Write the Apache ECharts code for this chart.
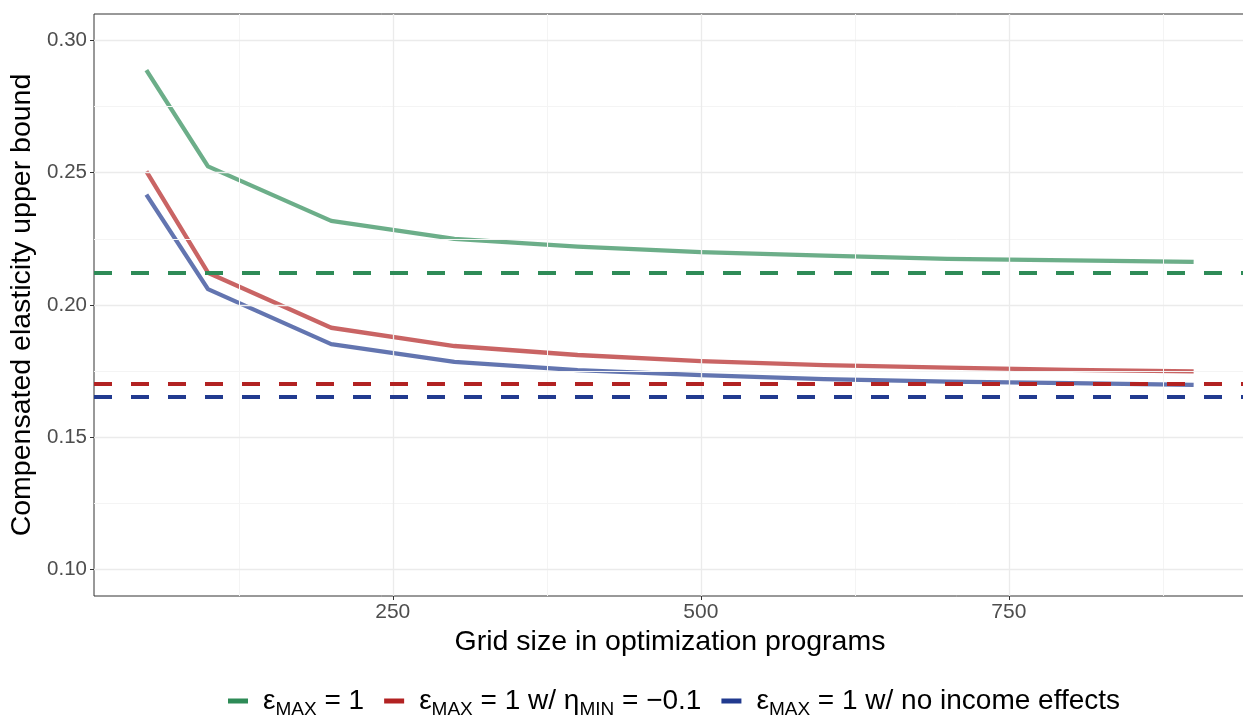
<!DOCTYPE html>
<html>
<head>
<meta charset="utf-8">
<script src="https://cdn.jsdelivr.net/npm/echarts@6/dist/echarts.min.js"></script>
<style>
  html, body { margin: 0; padding: 0; background: #fff; overflow: hidden; }
  #chart { width: 1243px; height: 715px; }
</style>
</head>
<body>
<div id="chart"></div>
<script>
// Grid sizes used in the optimization programs
const gridSizes = [50, 100, 200, 300, 400, 500, 600, 700, 800, 900];

// Upper bound on the compensated elasticity for each grid size
const boundEpsMax = [0.2888, 0.2524, 0.2318, 0.2250, 0.2221, 0.2200, 0.2187, 0.2174, 0.2169, 0.2163];
const boundEtaMin = [0.2505, 0.2122, 0.1914, 0.1845, 0.1811, 0.1788, 0.1773, 0.1763, 0.1755, 0.1749];
const boundNoIncome = [0.2417, 0.2060, 0.1852, 0.1785, 0.1754, 0.1735, 0.1720, 0.1710, 0.1705, 0.1698];

// Limiting values (dashed horizontal lines)
const limitEpsMax = 0.2121;
const limitEtaMin = 0.1702;
const limitNoIncome = 0.1655;

// Axis ticks
const xMajorTicks = [250, 500, 750];
const xMinorTicks = [125, 375, 625, 875];
const yMajorTicks = [0.10, 0.15, 0.20, 0.25, 0.30];
const yMinorTicks = [0.125, 0.175, 0.225, 0.275];

const seriesNames = [
  'εMAX = 1',
  'εMAX = 1 w/ ηMIN = −0.1',
  'εMAX = 1 w/ no income effects'
];
const richLabels = {
  'εMAX = 1': '{sp|}{m|ε}{s|MAX}{m| = 1}',
  'εMAX = 1 w/ ηMIN = −0.1': '{sp|}{m|ε}{s|MAX}{m| = 1 w/ η}{s|MIN}{m| = −0.1}',
  'εMAX = 1 w/ no income effects': '{sp|}{m|ε}{s|MAX}{m| = 1 w/ no income effects}'
};

const solidColors = ['#2e8b57', '#b22222', '#213a8f'];
const dashColors = ['#2e8b57', '#b22222', '#213a8f'];

const FONT = '"Liberation Sans", Arial, Helvetica, sans-serif';

const pair = (xs, ys) => xs.map((x, i) => [x, ys[i]]);

function solidSeries(name, values, color) {
  return {
    name: name,
    type: 'line',
    data: pair(gridSizes, values),
    showSymbol: false,
    symbol: 'none',
    smooth: false,
    z: 3,
    itemStyle: { color: color },
    lineStyle: { color: color, width: 4.3, opacity: 0.7, cap: 'butt', join: 'round' },
    emphasis: { disabled: true },
    animation: false
  };
}

function gridLines(axisKey, values, color, width) {
  return values.map(v => ({
    [axisKey]: v,
    lineStyle: { color: color, width: width, type: 'solid' }
  }));
}

const chart = echarts.init(document.getElementById('chart'), null, { renderer: 'canvas' });

chart.setOption({
  backgroundColor: '#ffffff',
  animation: false,
  grid: {
    left: 94, right: -3, top: 14, bottom: 119,
    outerBoundsMode: 'none',
    containLabel: false,
    show: true, borderColor: '#333333', borderWidth: 1,
    backgroundColor: 'transparent'
  },
  xAxis: {
    type: 'value',
    min: 7.5,
    max: 942.5,
    name: 'Grid size in optimization programs',
    nameLocation: 'middle',
    nameGap: 29,
    nameTextStyle: { fontFamily: FONT, fontSize: 28.5, color: '#000000' },
    axisLine: { show: false },
    splitLine: { show: false },
    axisTick: { show: true, customValues: xMajorTicks, length: 4, lineStyle: { color: '#333333', width: 1 } },
    axisLabel: { customValues: xMajorTicks, margin: 6, fontFamily: FONT, fontSize: 21, color: '#4d4d4d' }
  },
  yAxis: {
    type: 'value',
    min: 0.09,
    max: 0.31,
    name: 'Compensated elasticity upper bound',
    nameLocation: 'middle',
    nameRotate: 90,
    nameGap: 46,
    nameTextStyle: { fontFamily: FONT, fontSize: 28.5, color: '#000000' },
    axisLine: { show: false },
    splitLine: { show: false },
    axisTick: { show: true, customValues: yMajorTicks, length: 4, lineStyle: { color: '#333333', width: 1 } },
    axisLabel: {
      customValues: yMajorTicks, margin: 7, fontFamily: FONT, fontSize: 20.5, color: '#4d4d4d',
      formatter: v => v.toFixed(2)
    }
  },
  legend: {
    left: 228,
    top: 687,
    padding: 0,
    itemGap: 20,
    itemWidth: 20,
    itemHeight: 5,
    selectedMode: false,
    data: seriesNames.map((n, i) => ({ name: n, icon: 'rect', itemStyle: { color: dashColors[i] } })),
    formatter: name => richLabels[name],
    textStyle: {
      fontFamily: FONT,
      fontSize: 28,
      color: '#000000',
      rich: {
        sp: { width: 10 },
        m: { fontFamily: FONT, fontSize: 28, color: '#000000', lineHeight: 40 },
        s: { fontFamily: FONT, fontSize: 19, color: '#000000', padding: [19, 0, 0, 0], verticalAlign: 'top' }
      }
    }
  },
  series: [
    {
      name: 'panel grid',
      type: 'line',
      data: [],
      z: 1,
      silent: true,
      markLine: {
        silent: true,
        precision: 6,
        symbol: ['none', 'none'],
        label: { show: false },
        emphasis: { disabled: true },
        animation: false,
        data: [
          ...gridLines('xAxis', xMinorTicks, '#f4f4f4', 1),
          ...gridLines('yAxis', yMinorTicks, '#f4f4f4', 1),
          ...gridLines('xAxis', xMajorTicks, '#ebebeb', 1.3),
          ...gridLines('yAxis', yMajorTicks, '#ebebeb', 1.3)
        ]
      }
    },
    solidSeries(seriesNames[0], boundEpsMax, solidColors[0]),
    solidSeries(seriesNames[1], boundEtaMin, solidColors[1]),
    solidSeries(seriesNames[2], boundNoIncome, solidColors[2]),
    {
      name: 'limits',
      type: 'line',
      data: [],
      z: 5,
      silent: true,
      markLine: {
        silent: true,
        precision: 6,
        symbol: ['none', 'none'],
        label: { show: false },
        emphasis: { disabled: true },
        animation: false,
        data: [
          { yAxis: limitEpsMax, lineStyle: { color: dashColors[0], width: 4, type: [18, 19], cap: 'butt' } },
          { yAxis: limitEtaMin, lineStyle: { color: dashColors[1], width: 4, type: [18, 19], cap: 'butt' } },
          { yAxis: limitNoIncome, lineStyle: { color: dashColors[2], width: 4, type: [18, 19], cap: 'butt' } }
        ]
      }
    }
  ]
});
</script>
</body>
</html>
